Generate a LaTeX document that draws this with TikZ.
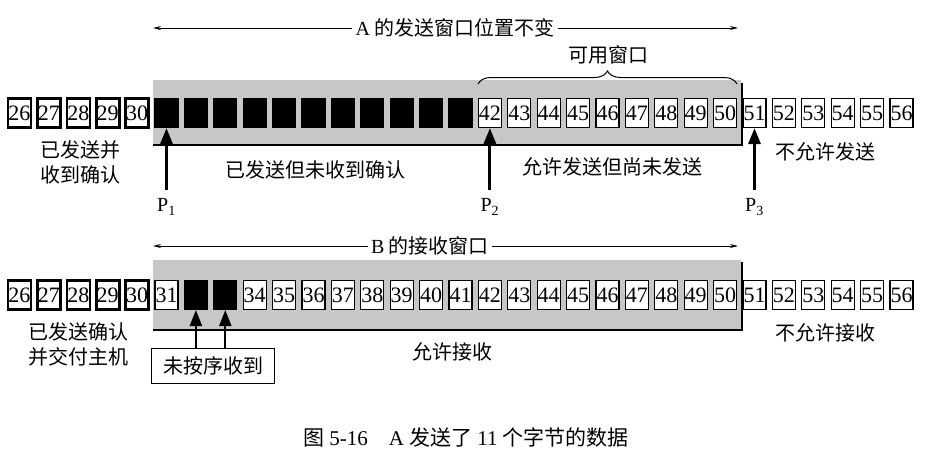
\documentclass[tikz,border=0pt]{standalone}
\usepackage{fontspec}
\setmainfont{Liberation Serif}
\newfontfamily\zhfont{Noto Sans CJK SC}
\usetikzlibrary{arrows.meta, positioning, decorations.pathreplacing}

\begin{document}
\begin{tikzpicture}[x=1pt, y=-1pt,
  numbox/.style={draw, line width=1.1pt, fill=white, minimum width=23pt,
    minimum height=29pt, inner sep=0pt, font=\fontsize{22}{22}\selectfont},
  donebox/.style={numbox, line width=2.6pt},
  sentbox/.style={numbox, fill=black},
  winfill/.style={fill=black!22},
  lbl/.style={font=\fontsize{20}{25}\selectfont\zhfont, align=center},
  plbl/.style={font=\fontsize{20}{20}\selectfont},
  ptr/.style={line width=3pt, -{Triangle[length=16pt,width=12pt]}},
  span/.style={line width=0.9pt, -{Stealth[length=8pt,width=4pt]}}
]
  \useasboundingbox (0,0) rectangle (943,471);

  % sender A
  \fill[winfill] (153,80) rectangle (741,145);
  \draw[line width=1.6pt] (153,145) -- (742,145) -- (742,83);

  \foreach \n in {26,...,30}
    \node[donebox] (a\n) at ({19.5+(\n-26)*29.4},113) {\n};
  \foreach \n in {31,...,41}
    \node[sentbox] (a\n) at ({19.5+(\n-26)*29.4},113) {};
  \foreach \n in {42,...,56}
    \node[numbox] (a\n) at ({19.5+(\n-26)*29.4},113) {\n};

  \node[lbl] (atitle) at (455,28) {{\rmfamily A} 的发送窗口位置不变};
  \coordinate (aleft) at (153,28);
  \coordinate (aright) at (738,28);
  \draw[span] (atitle.west) -- (aleft);
  \draw[span] (atitle.east) -- (aright);

  \draw[decorate, decoration={brace, amplitude=13pt}, line width=1pt]
    (478,84) -- (737,84);
  \node[lbl] (usable) at (608,55) {可用窗口};

  \node[lbl] (acked) at (80,162) {已发送并\\收到确认};
  \node[lbl] (unacked) at (315,170) {已发送但未收到确认};
  \node[lbl] (allowed) at (612,167) {允许发送但尚未发送};
  \node[lbl] (denied) at (825,152) {不允许发送};

  \node[plbl] (p1) at (a31 |- 0,207) {P\textsubscript{1}};
  \node[plbl] (p2) at (a42 |- 0,207) {P\textsubscript{2}};
  \node[plbl] (p3) at (a51 |- 0,207) {P\textsubscript{3}};
  \draw[ptr, shorten <=5pt] (p1.north) -- (a31.south);
  \draw[ptr, shorten <=5pt] (p2.north) -- (a42.south);
  \draw[ptr, shorten <=5pt] (p3.north) -- (a51.south);

  % receiver B
  \fill[winfill] (153,260) rectangle (741,330);
  \draw[line width=1.6pt] (153,330) -- (742,330) -- (742,262);

  \foreach \n in {26,...,30}
    \node[donebox] (b\n) at ({19.5+(\n-26)*29.4},295) {\n};
  \node[numbox] (b31) at ({19.5+5*29.4},295) {31};
  \foreach \n in {32,33}
    \node[sentbox] (b\n) at ({19.5+(\n-26)*29.4},295) {};
  \foreach \n in {34,...,56}
    \node[numbox] (b\n) at ({19.5+(\n-26)*29.4},295) {\n};

  \node[lbl] (btitle) at (430,246) {{\rmfamily B} 的接收窗口};
  \coordinate (bleft) at (153,246);
  \coordinate (bright) at (738,246);
  \draw[span] (btitle.west) -- (bleft);
  \draw[span] (btitle.east) -- (bright);

  \node[lbl] (delivered) at (78,344) {已发送确认\\并交付主机};
  \node[lbl] (recvok) at (452,352) {允许接收};
  \node[lbl] (recvno) at (825,333) {不允许接收};

  \node[lbl, draw, line width=1pt, minimum width=123pt, minimum height=35pt]
    (ooo) at (213,366) {未按序收到};
  \draw[ptr, line width=2.2pt] (b32 |- ooo.north) -- (b32.south);
  \draw[ptr, line width=2.2pt] (b33 |- ooo.north) -- (b33.south);

  % caption
  \node[plbl, font=\fontsize{21}{21}\selectfont] (caption) at (466,437)
    {{\zhfont 图} 5-16\quad A {\zhfont 发送了} 11 {\zhfont 个字节的数据}};
\end{tikzpicture}
\end{document}
